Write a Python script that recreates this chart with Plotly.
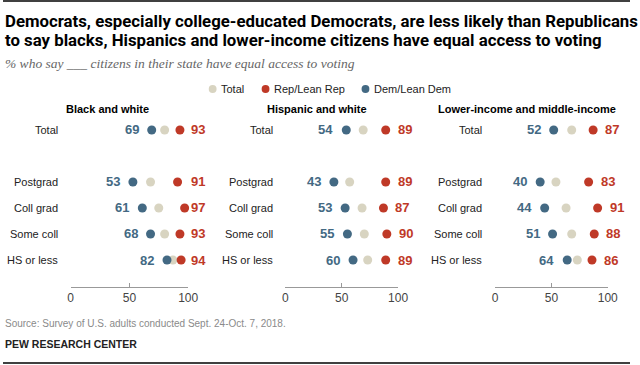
import plotly.graph_objects as go

# ---------------- data ----------------
panels = ["Black and white", "Hispanic and white", "Lower-income and middle-income"]
groups = ["Total", "Postgrad", "Coll grad", "Some coll", "HS or less"]
dem_values = [[69, 53, 61, 68, 82], [54, 43, 53, 55, 60], [52, 40, 44, 51, 64]]
rep_values = [[93, 91, 97, 93, 94], [89, 89, 87, 90, 89], [87, 83, 91, 88, 86]]
total_values = [[80, 68, 75, 80, 87], [69, 57, 68, 70, 73], [68, 54, 63, 68, 73]]
series_names = ["Total", "Rep/Lean Rep", "Dem/Lean Dem"]
tick_values = [0, 50, 100]
title_lines = ["Democrats, especially college-educated Democrats, are less likely than Republicans",
               "to say blacks, Hispanics and lower-income citizens have equal access to voting"]
subtitle = "% who say ___ citizens in their state have equal access to voting"
source = "Source: Survey of U.S. adults conducted Sept. 24-Oct. 7, 2018."
credit = "PEW RESEARCH CENTER"

# ---------------- style ----------------
W, H = 640, 365
BLUE, RED, BEIGE = "#436983", "#bf3927", "#d8d4c1"
SANS = "Liberation Sans, Arial, sans-serif"
TITLE_FONT = "Roboto, Liberation Sans, sans-serif"
SERIF = "Liberation Serif, DejaVu Serif, serif"

def X(px):
    return px / W

def Y(py):
    return 1 - py / H

panel_px = [(69, 189), (288.3, 403.3), (502.3, 617.3)]
panel_centers = [107, 321, 535]
rowlabel_right = [58, 278, 491]
y_top_px, y_bot_px = 104, 287
cat_order = [groups[0], " "] + groups[1:]

fig = go.Figure()
annotations = []

for i, name in enumerate(panels):
    xa = "x" if i == 0 else f"x{i+1}"
    ya = "y" if i == 0 else f"y{i+1}"
    for vals, col, sname in [(total_values[i], BEIGE, series_names[0]),
                             (rep_values[i], RED, series_names[1]),
                             (dem_values[i], BLUE, series_names[2])]:
        fig.add_trace(go.Scatter(x=vals, y=groups, mode="markers", xaxis=xa, yaxis=ya,
                                 name=sname, showlegend=False,
                                 marker=dict(size=9, color=col, line=dict(width=0)),
                                 cliponaxis=False, hoverinfo="x+y+name"))
    annotations.append(dict(text=f"<b>{name}</b>", xref="paper", yref="paper",
                            x=X(panel_centers[i]), y=Y(109), xanchor="center", yanchor="middle",
                            showarrow=False, font=dict(family=SANS, size=11, color="#000")))
    for g, d, r in zip(groups, dem_values[i], rep_values[i]):
        annotations.append(dict(text=g, xref="paper", yref=ya, x=X(rowlabel_right[i]), y=g,
                                xanchor="right", yanchor="middle", showarrow=False,
                                font=dict(family=SANS, size=11, color="#222")))
        annotations.append(dict(text=f"<b>{d}</b>", xref=xa, yref=ya, x=d, y=g,
                                xanchor="right", yanchor="middle", xshift=-11, showarrow=False,
                                font=dict(family=SANS, size=13, color=BLUE)))
        if i == 0:
            rx, rs = 100, 1
        else:
            rx, rs = r, 10
        annotations.append(dict(text=f"<b>{r}</b>", xref=xa, yref=ya, x=rx, y=g,
                                xanchor="left", yanchor="middle", xshift=rs, showarrow=False,
                                font=dict(family=SANS, size=13, color=RED)))

    xkey = "xaxis" if i == 0 else f"xaxis{i+1}"
    ykey = "yaxis" if i == 0 else f"yaxis{i+1}"
    fig.update_layout(**{
        xkey: dict(domain=[X(panel_px[i][0]), X(panel_px[i][1])], range=[0, 100],
                   anchor=ya, showgrid=False, zeroline=False, showline=True,
                   linecolor="#999", linewidth=1, ticks="inside", ticklen=4,
                   tickcolor="#999", tickvals=tick_values, fixedrange=True,
                   tickfont=dict(family=SANS, size=12, color="#444")),
        ykey: dict(domain=[Y(y_bot_px), Y(y_top_px)], type="category",
                   categoryorder="array", categoryarray=cat_order,
                   range=[(y_bot_px - 130) / 26, -1], anchor=xa,
                   showgrid=False, zeroline=False, showline=False,
                   showticklabels=False, fixedrange=True),
    })

# legend built from shapes + text
shapes = []
legend_dots = [214, 268, 370]
legend_text = [220, 275, 377]
for cx, tx, sname, col in zip(legend_dots, legend_text, series_names, [BEIGE, RED, BLUE]):
    shapes.append(dict(type="circle", xref="paper", yref="paper",
                       x0=X(cx - 4), x1=X(cx + 4), y0=Y(89 + 4), y1=Y(89 - 4),
                       fillcolor=col, line=dict(width=0)))
    annotations.append(dict(text=sname, xref="paper", yref="paper", x=X(tx), y=Y(89),
                            xanchor="left", yanchor="middle", showarrow=False,
                            font=dict(family=SANS, size=11, color="#222")))

# titles and footer
annotations.append(dict(text=f"<b>{title_lines[0]}</b>", xref="paper", yref="paper",
                        x=0, y=Y(21), xanchor="left", yanchor="middle", showarrow=False,
                        font=dict(family=TITLE_FONT, size=16.8, color="#000")))
annotations.append(dict(text=f"<b>{title_lines[1]}</b>", xref="paper", yref="paper",
                        x=0, y=Y(40), xanchor="left", yanchor="middle", showarrow=False,
                        font=dict(family=TITLE_FONT, size=16.8, color="#000")))
annotations.append(dict(text=f"<i>{subtitle}</i>", xref="paper", yref="paper",
                        x=0, y=Y(63), xanchor="left", yanchor="middle", showarrow=False,
                        font=dict(family=SERIF, size=13.5, color="#666")))
annotations.append(dict(text=source, xref="paper", yref="paper",
                        x=0, y=Y(323), xanchor="left", yanchor="middle", showarrow=False,
                        font=dict(family=SANS, size=10, color="#8a8a8a")))
annotations.append(dict(text=f"<b>{credit}</b>", xref="paper", yref="paper",
                        x=0, y=Y(344), xanchor="left", yanchor="middle", showarrow=False,
                        font=dict(family=SANS, size=10.5, color="#222")))

shapes.append(dict(type="line", xref="paper", yref="paper", x0=0, x1=1, y0=Y(1), y1=Y(1),
                   line=dict(color="#000", width=1.5)))
shapes.append(dict(type="line", xref="paper", yref="paper", x0=0, x1=1, y0=Y(363), y1=Y(363),
                   line=dict(color="#000", width=1.5)))

fig.update_layout(width=W, height=H, margin=dict(l=0, r=0, t=0, b=0),
                  paper_bgcolor="white", plot_bgcolor="white", showlegend=False,
                  annotations=annotations, shapes=shapes)

fig.write_html("out.html", config={"displayModeBar": False},
               post_script="document.body.style.margin='0';document.body.style.overflow='hidden';")
